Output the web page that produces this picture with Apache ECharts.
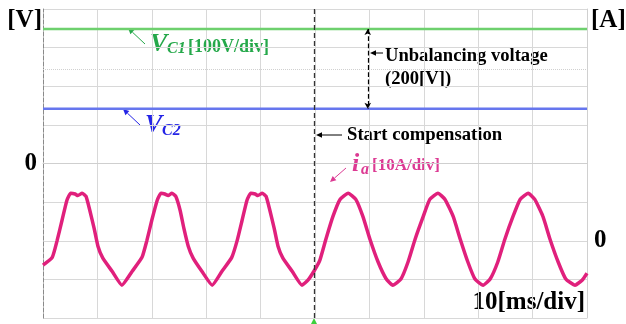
<!DOCTYPE html>
<html>
<head>
<meta charset="utf-8">
<script src="https://cdn.jsdelivr.net/npm/echarts@6/dist/echarts.min.js"></script>
<style>
  html, body { margin: 0; padding: 0; background: #fff; }
  #chart { width: 626px; height: 324px; }
</style>
</head>
<body>
<div id="chart"></div>
<script>
// capacitor voltages (V), 100V/div
const vTime = [0, 25, 50, 75, 100];
const vc1 = [348, 348, 348, 348, 348];
const vc2 = [142, 142, 142, 142, 142];

// phase current ia (A), 10A/div: [ms, A]
const iaPoints = [
  [0.0, -6.3], [1.7, -4.3], [2.6, 0.1], [3.5, 5.3], [4.4, 10.5], [5.1, 12.3], [5.9, 12.1], [6.4, 11.7], [7.2, 12.3],
  [7.9, 11.5], [8.6, 7.9], [9.4, 3.2], [10.1, -1.4], [11.0, -4.5], [12.7, -7.9], [14.5, -11.5], [16.4, -7.9], [18.2, -4.3],
  [19.1, 0.1], [20.0, 5.3], [21.0, 10.5], [21.7, 12.3], [22.4, 12.1], [23.0, 11.7], [23.7, 12.3], [24.4, 11.5],
  [25.2, 7.9], [25.9, 3.2], [26.7, -1.4], [27.6, -4.5], [29.2, -7.9], [31.1, -11.5], [32.9, -7.9], [34.7, -4.3],
  [35.7, 0.1], [36.6, 5.3], [37.5, 10.5], [38.2, 12.3], [39.0, 12.1], [39.5, 11.7], [40.3, 12.3], [41.0, 11.5],
  [41.7, 7.9], [42.5, 3.2], [43.2, -1.4], [44.1, -4.5], [45.8, -7.9], [47.6, -11.5], [48.7, -10.2], [49.8, -7.9],
  [50.9, -5.0], [52.0, 0.4], [53.3, 6.3], [54.6, 10.7], [56.1, 12.3], [57.5, 10.7], [58.8, 6.3], [60.1, 0.4],
  [61.6, -5.5], [63.1, -9.9], [64.3, -11.5], [65.8, -9.9], [67.1, -5.5], [68.4, 0.4], [69.9, 6.3], [71.1, 10.7],
  [72.6, 12.3], [73.9, 10.7], [75.4, 6.3], [76.7, 0.4], [78.1, -5.5], [79.4, -9.9], [80.9, -11.5], [82.2, -9.9],
  [83.6, -5.5], [84.9, 0.4], [86.4, 6.3], [87.7, 10.7], [89.2, 12.3], [90.4, 10.7], [91.9, 6.3], [93.2, 0.4],
  [94.7, -5.5], [96.1, -9.9], [97.8, -11.5], [99.1, -10.2], [100, -8.4]
];

const startTime = 49.8;     // start compensation (ms)
const gapTime = 59.7;       // where the 200 V gap is marked
const refLevel = 245;       // faint dotted reference line (V)

const serif = '"Liberation Serif", "Times New Roman", serif';
const green = '#25a84a', blue = '#2424e6', pink = '#dc3a93';

function arrow(x1, y1, x2, y2, color) {
  const a = Math.atan2(y2 - y1, x2 - x1), L = 6, W = 2.8;
  const bx = x2 - L * Math.cos(a), by = y2 - L * Math.sin(a);
  return [
    { type: 'line', shape: { x1, y1, x2: bx, y2: by }, style: { stroke: color, lineWidth: 1 }, silent: true },
    { type: 'polygon', shape: { points: [[x2, y2], [bx + W * Math.sin(a), by - W * Math.cos(a)], [bx - W * Math.sin(a), by + W * Math.cos(a)]] },
      style: { fill: color }, silent: true }
  ];
}

function txt(text, x, y, size, color, opts = {}) {
  return {
    type: 'text', silent: true,
    style: {
      text, x, y, fill: color,
      font: `${opts.italic ? 'italic ' : ''}bold ${size}px ${serif}`,
      textAlign: opts.align || 'left', align: opts.align || 'left',
      textVerticalAlign: 'middle', verticalAlign: 'middle'
    }
  };
}

const chart = echarts.init(document.getElementById('chart'));
chart.setOption({
  animation: false,
  backgroundColor: '#fff',
  grid: { left: 43, right: 39, top: 9, bottom: 6 },
  xAxis: {
    type: 'value', min: 0, max: 100, interval: 10,
    axisLabel: { show: false }, axisTick: { show: false },
    axisLine: { lineStyle: { color: '#cfcfcf' } },
    splitLine: { lineStyle: { color: '#d8d8d8', width: 1 } }
  },
  yAxis: [
    {
      type: 'value', min: -400, max: 400, interval: 100, position: 'left',
      axisLine: { show: true, lineStyle: { color: '#8a8a8a', type: 'dashed' } },
      axisTick: { show: false },
      splitLine: { lineStyle: { color: '#d8d8d8', width: 1 } },
      axisLabel: { formatter: v => v === 0 ? '0' : '', color: '#000', fontFamily: serif, fontWeight: 'bold', fontSize: 25, margin: 6 }
    },
    {
      type: 'value', min: -20, max: 60, interval: 10, position: 'right',
      axisLine: { show: true, lineStyle: { color: '#d0d0d0' } },
      axisTick: { show: false }, splitLine: { show: false },
      axisLabel: { formatter: v => v === 0 ? '0' : '', color: '#000', fontFamily: serif, fontWeight: 'bold', fontSize: 25, margin: 7 }
    }
  ],
  series: [
    {
      name: 'VC1', type: 'line', yAxisIndex: 0, showSymbol: false, silent: true,
      data: vTime.map((t, k) => [t, vc1[k]]),
      lineStyle: { color: '#6ed06e', width: 2.5 },
      markLine: {
        silent: true, symbol: ['arrow', 'arrow'], symbolSize: [5, 6], label: { show: false },
        lineStyle: { color: '#000', type: 'dashed', width: 1.2 },
        data: [[{ coord: [gapTime, vc1[0]] }, { coord: [gapTime, vc2[0]] }]]
      }
    },
    {
      name: 'VC2', type: 'line', yAxisIndex: 0, showSymbol: false, silent: true,
      data: vTime.map((t, k) => [t, vc2[k]]),
      lineStyle: { color: '#6676ee', width: 2.5 },
      markLine: {
        silent: true, symbol: 'none', label: { show: false },
        lineStyle: { color: '#d0d0d0', type: 'dotted', width: 1 },
        data: [{ yAxis: refLevel }]
      }
    },
    {
      name: 'ia', type: 'line', yAxisIndex: 1, showSymbol: false, silent: true, smooth: 0.15,
      data: iaPoints,
      lineStyle: { color: '#e0207c', width: 3.5 },
      markLine: {
        silent: true, symbol: 'none', label: { show: false },
        lineStyle: { color: '#333', type: [5, 3], width: 1.3 },
        data: [{ xAxis: startTime }]
      }
    }
  ],
  graphic: [
    txt('[V]', 42, 21, 25, '#000', { align: 'right' }),
    txt('[A]', 591, 21, 25, '#000'),
    ...arrow(145, 44, 128, 28, green),
    txt('V', 150, 44, 26, green, { italic: true }),
    txt('C1', 167, 49, 16, green, { italic: true }),
    txt('[100V/div]', 188, 47, 18, green),
    ...arrow(140, 125, 123, 109, blue),
    txt('V', 145, 125, 26, blue, { italic: true }),
    txt('C2', 162, 131, 16, blue, { italic: true }),
    ...arrow(383, 53, 370, 53, '#000'),
    txt('Unbalancing voltage', 385, 56, 18.6, '#000'),
    txt('(200[V])', 385, 79, 18.6, '#000'),
    ...arrow(342, 135, 316, 135, '#000'),
    txt('Start compensation', 347, 135, 18.7, '#000'),
    ...arrow(346, 168, 330, 182, pink),
    txt('i', 352, 164, 26, pink, { italic: true }),
    txt('a', 361, 170, 16, pink, { italic: true }),
    txt('[10A/div]', 372, 166, 17, pink),
    txt('10[ms/div]', 585, 303, 25, '#000', { align: 'right' }),
    { type: 'polygon', silent: true, shape: { points: [[311, 324], [317, 324], [314, 318]] }, style: { fill: '#3ccf3c' } }
  ]
});
window.addEventListener('resize', () => chart.resize());
</script>
</body>
</html>
